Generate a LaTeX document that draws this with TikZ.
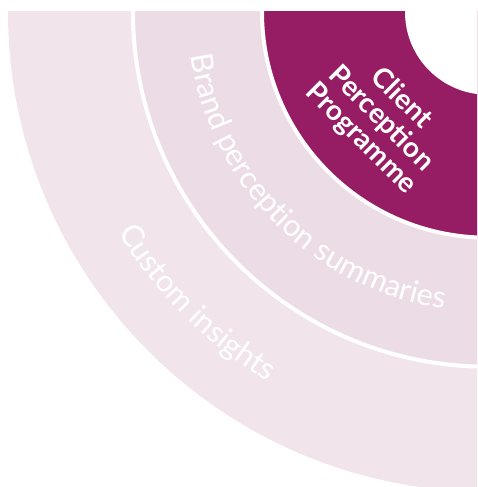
\documentclass[tikz,border=0pt]{standalone}
\usepackage{fontspec}
\setmainfont{Lato}
\usepackage{tikz}
\usetikzlibrary{decorations.text}
\definecolor{plumdark}{HTML}{961C63}
\definecolor{plummid}{HTML}{ECDCE6}
\definecolor{plumlight}{HTML}{F1E4EB}
\newcommand{\ringfont}{\fontsize{30.5}{32}\selectfont}

\begin{document}
\begin{tikzpicture}[
  x=1pt,y=1pt,
  gapline/.style={draw=white,line width=4pt},
  ringlabel/.style={decorate,decoration={text along path,text align=center,
    text={|\ringfont\color{white}|#1}}},
  corelabel/.style={text=white,align=center,rotate=-45,
    font=\fontsize{28}{28.5}\selectfont\bfseries}
]
\useasboundingbox (0,-487) rectangle (477,0);
\coordinate (C) at (487.7,-12);
\begin{scope}
  \clip (0,-487) rectangle (477,-12);
  % rings, outside in
  \fill[plumlight] (C) circle[radius=479.7];
  \fill[plummid] (C) circle[radius=354.7];
  \fill[plumdark] (C) circle[radius=225.7];
  \fill[white] (C) circle[radius=82.7];
  \draw[gapline] (C) circle[radius=354.7];
  \draw[gapline] (C) circle[radius=225.7];
\end{scope}

\path (C) ++(225:151) node[corelabel] (client) {Client\\Perception\\Programme};
\path[ringlabel={Brand perception summaries}]
  ([shift={(180:300)}]C) arc[start angle=180,end angle=270,radius=300];
\path[ringlabel={Custom insights}]
  ([shift={(180:430)}]C) arc[start angle=180,end angle=270,radius=430];
\end{tikzpicture}
\end{document}
